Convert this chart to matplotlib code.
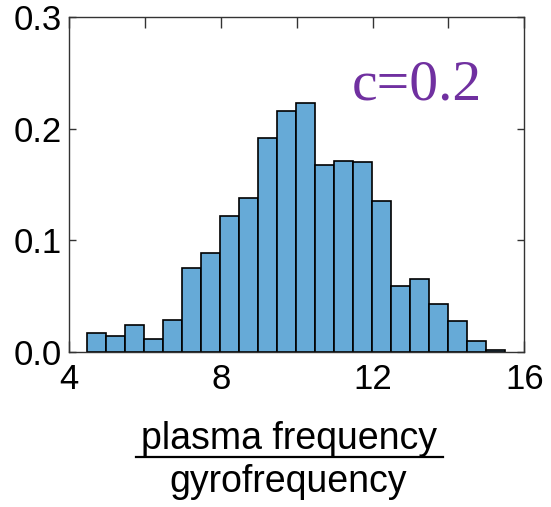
import numpy as np
import matplotlib
matplotlib.use("Agg")
import matplotlib.pyplot as plt
from matplotlib.lines import Line2D
from matplotlib.ticker import MultipleLocator, FormatStrFormatter

# Histogram data (density)
bin_edges = np.linspace(4.47, 15.5, 23)
densities = [0.017, 0.014, 0.024, 0.012, 0.029, 0.075, 0.089, 0.122, 0.138,
             0.192, 0.216, 0.223, 0.168, 0.171, 0.170, 0.135, 0.059, 0.065,
             0.043, 0.028, 0.010, 0.0015]
x_ticks = [4, 8, 12, 16]
y_ticks = [0.0, 0.1, 0.2, 0.3]
label_top = "plasma frequency"
label_bottom = "gyrofrequency"
annotation = "c=0.2"

plt.rcParams['font.family'] = ['Liberation Sans', 'DejaVu Sans']

fig = plt.figure(figsize=(5.51, 5.07), dpi=100)
ax = fig.add_axes([69.3 / 551, 1 - 352 / 507, (524.3 - 69.3) / 551, (352 - 17.3) / 507])

widths = np.diff(bin_edges)
ax.bar(bin_edges[:-1], densities, width=widths, align='edge',
       color='#66AAD7', edgecolor='black', linewidth=1.2, zorder=2)

ax.set_xlim(4, 16)
ax.set_ylim(0, 0.3)
ax.set_xticks(x_ticks)
ax.set_yticks(y_ticks)
ax.xaxis.set_minor_locator(MultipleLocator(2))
ax.yaxis.set_major_formatter(FormatStrFormatter('%.1f'))

for s in ax.spines.values():
    s.set_color('#333333')
    s.set_linewidth(1.0)
    s.set_zorder(3)

ax.tick_params(axis='both', which='both', direction='in', top=True, right=True,
               labelsize=25, color='#333333', width=1.0)
ax.tick_params(axis='x', which='both', length=8, pad=8)
ax.tick_params(axis='y', which='both', length=5, pad=5)

# fraction-style x label
fig.text(289 / 551, 1 - 449 / 507, label_top, ha='center', va='baseline', fontsize=27)
fig.add_artist(Line2D([136 / 551, 443 / 551], [1 - 456.7 / 507, 1 - 456.7 / 507],
                      color='black', linewidth=1.6, transform=fig.transFigure))
fig.text(288 / 551, 1 - 492 / 507, label_bottom, ha='center', va='baseline', fontsize=27)

fig.text(351.7 / 551, 1 - 100 / 507, annotation, ha='left', va='baseline',
         fontsize=41.5, color='#7030A0', family=['Liberation Serif', 'DejaVu Serif'])

fig.savefig("out.png", dpi=100)
